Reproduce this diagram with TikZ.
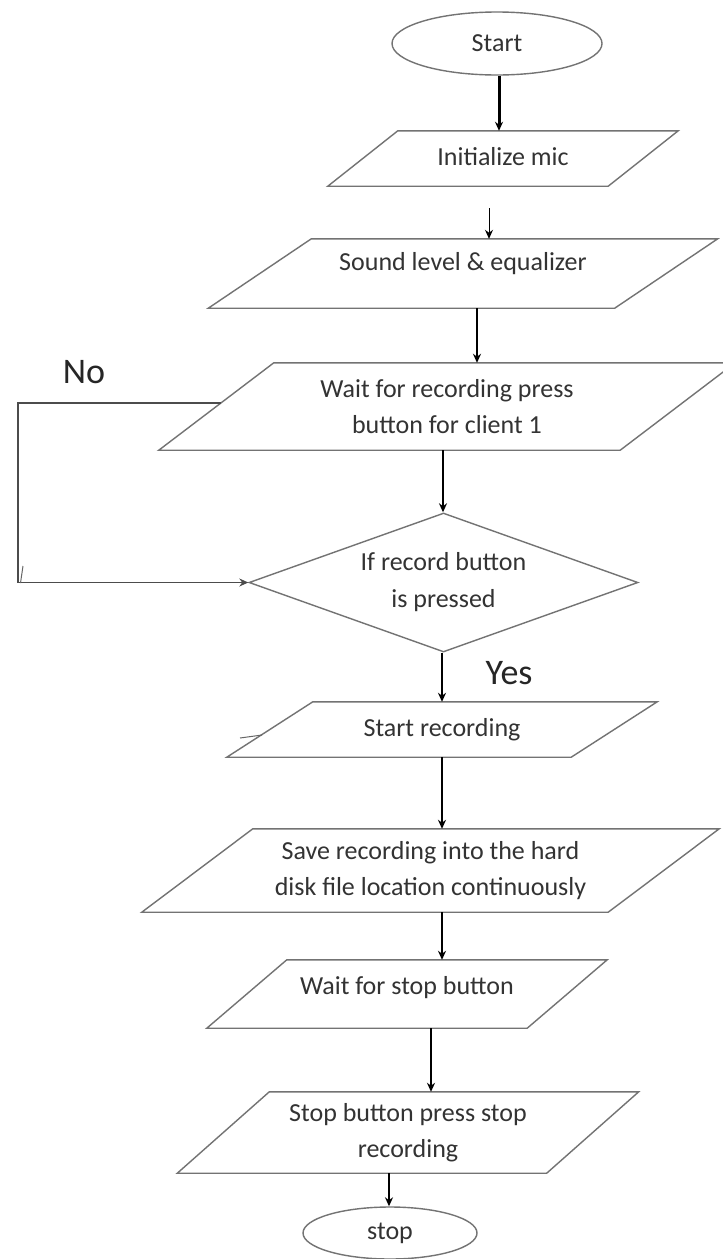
\documentclass[tikz,border=0pt]{standalone}
\usepackage{fontspec}
\setmainfont{Carlito}
\usetikzlibrary{shapes.geometric,arrows.meta}
\newcommand\mkpara[7]{%
  \node[boxtext, minimum width=#4pt, minimum height=#5pt] (#1) at (#2,#3) {#7};
  \draw[boxline] ([xshift=#6pt/2]#1.north west) -- ([xshift=#6pt/2]#1.north east)
     -- ([xshift=-#6pt/2]#1.south east) -- ([xshift=-#6pt/2]#1.south west) -- cycle;}
\begin{document}
\begin{tikzpicture}[x=1pt,y=-1pt,
  boxtext/.style={inner sep=0pt, font=\fontsize{26}{36}\selectfont, text=black!80, align=center},
  boxline/.style={draw=black!55, line width=1.4pt, line join=miter},
  term/.style={ellipse, draw=black!55, line width=1.4pt, inner sep=0pt, font=\fontsize{26}{30}\selectfont, text=black!80},
  decision/.style={diamond, aspect=2.8, draw=black!55, line width=1.4pt, inner sep=0pt, font=\fontsize{26}{37}\selectfont, text=black!80, align=center},
  arr/.style={draw=black, line width=1.6pt, -{Stealth[length=9pt,width=8pt]}},
  lbl/.style={inner sep=0pt, font=\fontsize{36}{40}\selectfont, text=black!85},
  stray/.style={draw=black!60, line width=1pt}
]
\useasboundingbox (0,0) rectangle (723,1259);
\fill[white] (0,0) rectangle (723,1259);

% terminals
\node[term, minimum width=210pt, minimum height=63pt] (start) at (497,43.5) {Start};
\node[term, minimum width=174pt, minimum height=52pt] (stop) at (390,1233) {stop};

% process / io boxes: name, cx, cy, w, h, slant, text
\mkpara{init}{503}{158.5}{280}{55}{70}{\raisebox{2pt}[\height][\depth]{Initialize mic}}
\mkpara{sound}{463}{273.5}{406}{69}{103}{\raisebox{10pt}[\height][\depth]{Sound level \& equalizer}}
\mkpara{wait}{447}{406.5}{461}{87}{115}{Wait for recording press\\button for client 1}
\mkpara{srec}{442}{729.5}{344}{55}{86}{Start recording}
\mkpara{save}{430.5}{870.5}{466}{83}{111}{Save recording into the hard\\disk file location continuously}
\mkpara{wstop}{407}{994}{320}{68}{80}{\raisebox{6pt}[\height][\depth]{Wait for stop button}}
\mkpara{sbtn}{408}{1132.5}{369}{81}{92}{Stop button press stop\\recording}

% decision
\node[decision, minimum width=389pt, minimum height=139pt] (dec) at (443.5,582.5) {If record button\\is pressed};

% labels
\node[lbl] (no) at (84,372) {No};
\node[lbl] (yes) at (509,673) {Yes};

% connector x positions
\coordinate (c1) at (499,0);
\coordinate (c2) at (489,208);
\coordinate (c3) at (477,0);
\coordinate (c4) at (443,0);
\coordinate (c5) at (442,0);
\coordinate (c6) at (431,0);
\coordinate (c7) at (389,0);
\coordinate (n0) at (221,403);
\coordinate (n1) at (18,403);

% connectors
\draw[arr, line width=3pt] (c1 |- start.south) -- (c1 |- init.north);
\draw[arr, line width=1pt] (c2) -- (c2 |- sound.north);
\draw[arr, line width=2.4pt] (c3 |- sound.south) -- (c3 |- wait.north);
\draw[arr] (c4 |- wait.south) -- (c4 |- dec.north);
\draw[arr, line width=1.2pt, draw=black!70] (n0) -- (n1) |- (dec.west);
\draw[arr] (c5 |- dec.south) -- (c5 |- srec.north);
\draw[arr] (c5 |- srec.south) -- (c5 |- save.north);
\draw[arr] (c5 |- save.south) -- (c5 |- wstop.north);
\draw[arr] (c6 |- wstop.south) -- (c6 |- sbtn.north);
\draw[arr] (c7 |- sbtn.south) -- (c7 |- stop.north);

% stray marks seen in the scan
\coordinate (s1) at (20.5,583);
\coordinate (s2) at (23,566);
\draw[stray] (s1) -- (s2);
\coordinate (s3) at (240,738);
\coordinate (s4) at (262,735);
\draw[stray] (s3) -- (s4);
\end{tikzpicture}
\end{document}
